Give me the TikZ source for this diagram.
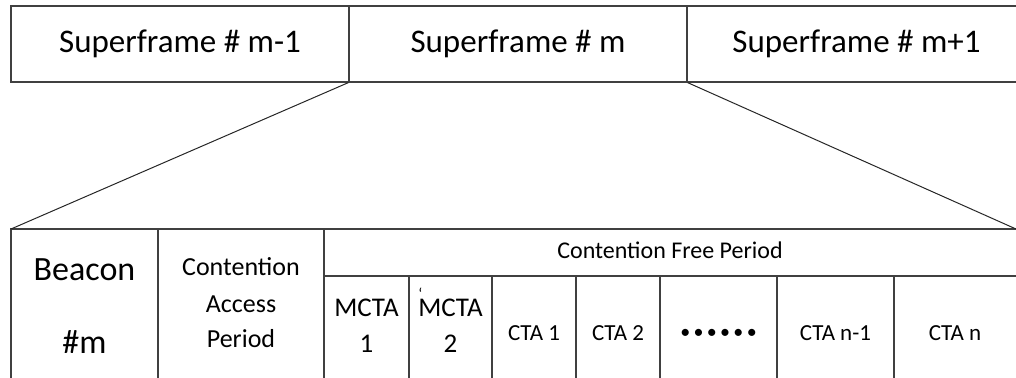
\documentclass[tikz,border=0pt]{standalone}
\usepackage{fontspec}
\setmainfont{Carlito}
\begin{document}
\begin{tikzpicture}[x=1pt,y=-1pt,line width=1.2pt,
  frame/.style={draw=black!75,line width=1.2pt,inner sep=0pt,minimum height=76pt,
    font=\fontsize{33}{40}\selectfont},
  grid/.style={draw=black!75,line width=1.2pt},
  conn/.style={draw=black!85,line width=1pt},
  big/.style={anchor=base,inner sep=0pt,font=\fontsize{34}{40}\selectfont},
  mid/.style={anchor=base,inner sep=0pt,font=\fontsize{26}{30}\selectfont},
  mcta/.style={anchor=base,inner sep=0pt,font=\fontsize{27}{30}\selectfont},
  small/.style={anchor=base,inner sep=0pt,font=\fontsize{23}{28}\selectfont}]
\useasboundingbox (0,0) rectangle (1016,377);
% superframes
\node[frame,minimum width=338pt] (sf1) at (180,44) {Superframe \# m-1};
\node[frame,minimum width=338pt] (sf2) at (518,44) {Superframe \# m};
\node[frame,minimum width=335pt] (sf3) at (854.5,44) {\hspace*{4pt}Superframe \# m+1};
% table outline
\coordinate (tl) at (11,229);
\coordinate (tr) at (1016,229);
\draw[grid] (11,378) -- (tl) -- (1020,229);
\draw[grid] (158,229) -- (158,378);
\draw[grid] (324,229) -- (324,378);
\draw[grid] (324,276) -- (1020,276);
\foreach \x in {409,492,576,660,777,894}
  \draw[grid] (\x,276) -- (\x,378);
% connectors
\draw[conn] (sf2.south west) -- (tl);
\draw[conn] (sf2.south east) -- (tr);
% texts
\node[big] (b1) at (84.5,280) {Beacon};
\node[big] (b2) at (84.5,353) {\#m};
\node[mid] (c1) at (241,275) {Contention};
\node[mid] (c2) at (241,312) {Access};
\node[mid] (c3) at (241,347) {Period};
\node[small,font=\fontsize{24}{28}\selectfont] (cfp) at (670,258) {Contention Free Period};
\node[mcta] (m1a) at (366.5,316) {MCTA};
\node[mcta] (m1b) at (366.5,352) {1};
\node[mcta] (m2a) at (450.5,316) {\rlap{\hspace{0pt}\raisebox{17pt}{\fontsize{16}{20}\selectfont\symbol{96}}}MCTA};
\node[mcta] (m2b) at (450.5,352) {2};
\node[small] (t1) at (534,340) {CTA 1};
\node[small] (t2) at (618,340) {CTA 2};
\node[small,font=\fontsize{20}{24}\selectfont] (dots) at (718.5,338) {•\,•\,•\,•\,•\,•};
\node[small] (t3) at (835.5,340) {CTA n-1};
\node[small] (t4) at (955,340) {CTA n};
\end{tikzpicture}
\end{document}
